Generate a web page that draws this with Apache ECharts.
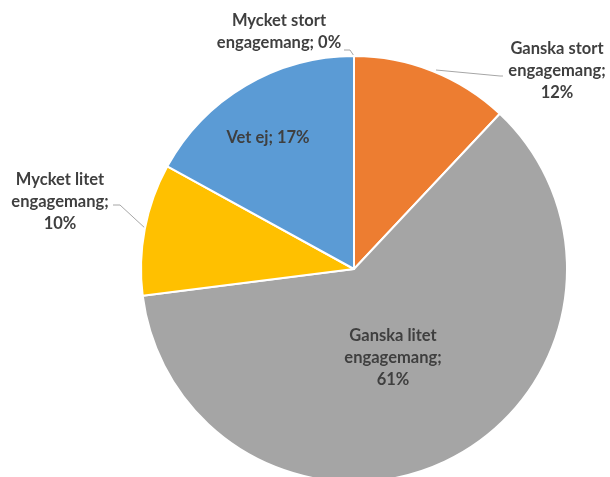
<!DOCTYPE html>
<html>
<head>
<meta charset="utf-8">
<script src="https://cdn.jsdelivr.net/npm/echarts@6/dist/echarts.min.js"></script>
<style>
  html, body { margin: 0; padding: 0; background: #fff; }
  #chart { width: 610px; height: 477px; }
</style>
</head>
<body>
<div id="chart"></div>
<script>
// categories and shares (percent), clockwise from 12 o'clock
var categories = ['Mycket stort engagemang', 'Ganska stort engagemang', 'Ganska litet engagemang', 'Mycket litet engagemang', 'Vet ej'];
var values = [0, 12, 61, 10, 17];
var colors = ['#4472C4', '#ED7D31', '#A5A5A5', '#FFC000', '#5B9BD5'];

// label text as in the reference (line breaks)
var labelTexts = [
  'Mycket stort\nengagemang; 0%',
  'Ganska stort\nengagemang;\n12%',
  'Ganska litet\nengagemang;\n61%',
  'Mycket litet\nengagemang;\n10%',
  'Vet ej; 17%'
];
var labelPos = ['outside', 'outside', 'inside', 'outside', 'inside'];

// where each label sits (centre of text block) and its leader line
var labelSpots = [
  { x: 279, y: 32, line: [[344, 50], [350, 50], [354, 56]] },
  { x: 557, y: 71, line: [[436, 70], [500, 76], [503, 76]] },
  { x: 393, y: 358 },
  { x: 60, y: 202, line: [[113, 205], [120, 205], [146, 229]] },
  { x: 268, y: 138 }
];

var chart = echarts.init(document.getElementById('chart'));

var data = categories.map(function (name, i) {
  return {
    name: name,
    value: values[i],
    itemStyle: { color: colors[i] },
    label: { position: labelPos[i], formatter: labelTexts[i] },
    labelLine: { show: labelPos[i] === 'outside' }
  };
});

chart.setOption({
  animation: false,
  series: [{
    type: 'pie',
    center: [354, 269],
    radius: 213,
    startAngle: 90,
    clockwise: true,
    stillShowZeroSum: true,
    data: data,
    itemStyle: { borderColor: '#fff', borderWidth: 2 },
    label: {
      show: true,
      color: '#3F3F3F',
      fontFamily: 'Lato',
      fontWeight: 'bold',
      fontSize: 16.5,
      lineHeight: 22,
      align: 'center'
    },
    labelLine: {
      show: true,
      lineStyle: { color: '#A6A6A6', width: 1 },
      length: 10,
      length2: 10
    },
    labelLayout: function (p) {
      var s = labelSpots[p.dataIndex];
      var out = { x: s.x, y: s.y, align: 'center', verticalAlign: 'middle' };
      if (s.line) out.labelLinePoints = s.line;
      return out;
    }
  }]
});
</script>
</body>
</html>
